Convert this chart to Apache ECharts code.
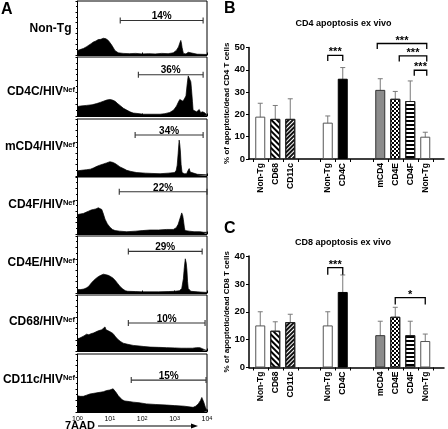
<!DOCTYPE html>
<html><head><meta charset="utf-8">
<script src="https://cdn.jsdelivr.net/npm/echarts@6/dist/echarts.min.js"></script>
<style>html,body{margin:0;padding:0;background:#fff}#c{width:448px;height:429px}</style>
</head><body><div id="c"></div>
<script>
// ---------------- DATA ----------------
// Panel A: flow histograms (x = log10 of 7AAD intensity, y = % of box height)
const histNames = ['Non-Tg', 'CD4C/HIV', 'mCD4/HIV', 'CD4F/HIV', 'CD4E/HIV', 'CD68/HIV', 'CD11c/HIV'];
const histSup = ['', 'Nef', 'Nef', 'Nef', 'Nef', 'Nef', 'Nef'];
const histPercents = ['14%', '36%', '34%', '22%', '29%', '10%', '15%'];
const gateStart = [1.32, 1.88, 1.78, 1.29, 1.57, 1.57, 1.66];
const gateEnd = [3.88, 3.88, 3.88, 4.0, 3.85, 3.94, 3.97];
const decades = [0, 1, 2, 3, 4];

const histNonTg = [[0,8],[0.08,10],[0.18,12],[0.27,15],[0.33,18],[0.42,21],[0.49,24],[0.57,26],[0.64,28.5],[0.72,29],[0.8,31],[0.88,30],[0.95,27],[1.0,23],[1.06,18],[1.11,13],[1.16,8],[1.21,5],[1.26,4],[1.41,3],[1.6,2.5],[1.8,3],[2.0,2],[2.2,2.5],[2.4,2],[2.6,3],[2.8,2.5],[2.96,4],[3.06,9],[3.12,15],[3.16,22],[3.19,27],[3.21,22],[3.23,14],[3.27,3],[3.35,2],[3.42,5],[3.46,2],[3.7,1.5],[4,1]];
const histCD4C = [[0,16],[0.1,17],[0.28,18],[0.45,19],[0.59,21],[0.7,23],[0.8,25],[0.9,27],[1.0,28],[1.08,27],[1.16,25],[1.24,21],[1.31,18],[1.42,13],[1.52,10],[1.62,7],[1.72,5],[1.9,4],[2.03,3],[2.3,3],[2.55,3],[2.7,4],[2.85,6],[2.97,10],[3.06,17],[3.12,24],[3.16,28],[3.21,26],[3.26,25],[3.31,30],[3.35,34],[3.39,55],[3.42,68],[3.47,70],[3.5,58],[3.52,46],[3.55,25],[3.57,10],[3.63,8],[3.68,7],[3.72,9],[3.76,11],[3.8,6],[3.83,3],[3.87,7],[3.9,10],[3.94,5],[4,1]];
const histMCD4 = [[0,9],[0.12,10],[0.28,11],[0.4,12],[0.49,14],[0.6,17],[0.69,19],[0.8,21],[0.9,23],[1.0,25],[1.08,24],[1.16,22],[1.24,19],[1.31,16],[1.42,13],[1.52,10],[1.65,8],[1.83,6],[2.1,5],[2.3,4.5],[2.55,4],[2.8,5],[3.0,6],[3.05,10],[3.08,19],[3.11,40],[3.14,63],[3.16,55],[3.18,42],[3.2,20],[3.23,6],[3.3,4],[3.37,4],[3.41,9],[3.45,13],[3.48,7],[3.51,4],[3.7,3],[4,2]];
const histCD4F = [[0,34],[0.08,35],[0.18,36],[0.26,38],[0.34,40],[0.42,42],[0.49,43],[0.57,44],[0.64,46],[0.7,45],[0.75,43],[0.8,35],[0.85,26],[0.92,18],[1.0,12],[1.08,8],[1.16,6],[1.3,5],[1.52,4],[1.8,5],[2.0,6],[2.24,7],[2.5,7],[2.75,8],[2.96,8],[3.05,11],[3.11,17],[3.17,28],[3.22,37],[3.25,32],[3.27,25],[3.3,12],[3.32,6],[3.45,5],[3.6,4],[3.78,4],[3.9,3],[4,3]];
const histCD4E = [[0,6],[0.1,6],[0.2,7],[0.28,9],[0.35,12],[0.42,17],[0.5,22],[0.58,26],[0.65,29],[0.72,31],[0.8,33],[0.88,32],[0.95,31],[1.02,29],[1.1,26],[1.18,21],[1.25,16],[1.32,11],[1.4,7],[1.48,4],[1.55,3],[1.8,2.5],[2.0,2],[2.5,2],[2.8,2.5],[3.0,3],[3.15,4],[3.22,8],[3.27,25],[3.3,45],[3.33,60],[3.36,52],[3.38,40],[3.4,20],[3.42,8],[3.5,3],[3.7,2],[4,1]];
const histCD68 = [[0,22],[0.07,23],[0.13,24],[0.2,27],[0.28,30],[0.35,29],[0.42,31],[0.49,32],[0.56,34],[0.64,36],[0.7,37],[0.75,38],[0.8,40],[0.85,43],[0.88,38],[0.95,36],[1.02,34],[1.1,31],[1.18,25],[1.26,20],[1.33,17],[1.41,14],[1.55,12],[1.72,10],[1.9,9],[2.05,8],[2.24,7],[2.5,6.5],[2.75,6],[3.0,5.5],[3.2,5],[3.37,5],[3.55,5],[3.68,6],[3.73,7],[3.78,6],[3.84,4],[3.94,2],[4,1]];
const histCD11c = [[0,28],[0.08,27],[0.18,27],[0.28,29],[0.38,31],[0.48,32],[0.59,33],[0.7,34],[0.8,35],[0.9,37],[1.0,38],[1.05,36],[1.1,40],[1.15,37],[1.2,33],[1.26,28],[1.31,25],[1.38,21],[1.46,19],[1.6,18],[1.72,17],[1.9,16],[2.13,14],[2.4,13],[2.75,12],[3.0,11],[3.3,10],[3.57,8],[3.65,10],[3.73,14],[3.8,20],[3.84,25],[3.87,22],[3.9,17],[3.95,8],[4,2]];
const histData = [histNonTg, histCD4C, histMCD4, histCD4F, histCD4E, histCD68, histCD11c];

// Panels B & C: bar charts
const barCategories = ['Non-Tg', 'CD68', 'CD11c', 'Non-Tg', 'CD4C', 'mCD4', 'CD4E', 'CD4F', 'Non-Tg'];
const cd4Mean = [19, 18, 18, 16.3, 36, 31, 27, 26, 10];
const cd4Err  = [6, 6, 9, 3, 5, 5, 3.3, 9, 2];
const cd8Mean = [15.1, 13.2, 16.3, 15.1, 27.1, 11.6, 18.2, 11.6, 9.5];
const cd8Err  = [4.9, 3.2, 2.8, 4.9, 6.1, 5, 3.4, 5, 2.5];
const cd4Sig = [[3, 4, '***'], [5, 8, '***'], [6, 8, '***'], [7, 8, '***']];
const cd8Sig = [[3, 4, '***'], [6, 8, '*']];
const cd4YTicks = [0, 10, 20, 30, 40, 50];
const cd8YTicks = [0, 10, 20, 30, 40];

// ---------------- LAYOUT / STYLE ----------------
const FF = '"Liberation Sans", Arial, sans-serif';
const histTops = [1, 57, 119, 177, 236, 295, 354];
const histBottoms = [55, 116, 176, 234, 293, 351, 412];
const histLabelY = [29, 92, 147, 205, 263, 322, 380];
const gateLevel = [64, 70, 72, 74, 73, 50, 55];
const nSlots = 26;
const barSlot = [1, 3, 5, 10, 12, 17, 19, 21, 23];
const tickSlots = [0, 2, 4, 6, 9, 11, 13, 16, 18, 20, 22, 24];
const cd4SigLevel = [46.5, 51.8, 46.2, 39.8];
const cd4SigDx = [[0, 0], [-3, 1.5], [4, 1.5], [4, 1.5]];
const cd8SigLevel = [35.8, 25.1];
const cd8SigDx = [[0, 0], [0, 0]];

const barLook = [
  {color: '#fff', borderColor: '#555'},
  {color: '#fff', borderColor: '#222', decal: {symbol: 'rect', dashArrayX: [1, 0], dashArrayY: [2, 2], rotation: Math.PI / 4, color: '#000'}},
  {color: '#fff', borderColor: '#222', decal: {symbol: 'rect', dashArrayX: [1, 0], dashArrayY: [1.2, 1], rotation: -Math.PI / 4, color: '#111'}},
  {color: '#fff', borderColor: '#555'},
  {color: '#000', borderColor: '#000'},
  {color: '#8c8c8c', borderColor: '#333'},
  {color: '#fff', borderColor: '#222', decal: {symbol: 'rect', dashArrayX: [[2, 2], [0, 2, 2, 0]], dashArrayY: [2, 0], color: '#000'}},
  {color: '#fff', borderColor: '#222', decal: {symbol: 'rect', dashArrayX: [1, 0], dashArrayY: [2, 2], rotation: 0, color: '#000'}},
  {color: '#fff', borderColor: '#555'}
];

const grids = [], xAxes = [], yAxes = [], series = [];

// ---- Panel A ----
histData.forEach((d, i) => {
  grids.push({left: 77.5, width: 129.5, top: histTops[i], height: histBottoms[i] - histTops[i],
    show: true, borderColor: '#000', borderWidth: 1});
  xAxes.push({type: 'value', gridIndex: i, min: 0, max: 4, interval: 1,
    axisLine: {show: true, lineStyle: {color: '#000', width: 1}},
    axisTick: {show: true, inside: true, length: 2.5, lineStyle: {color: '#000'}},
    splitLine: {show: false},
    axisLabel: {show: i === 6, margin: 3, color: '#000', fontFamily: FF, fontSize: 7, lineHeight: 9,
      formatter: v => '10{s|' + decades[v] + '}',
      rich: {s: {fontSize: 5.5, fontFamily: FF, color: '#000', verticalAlign: 'top', lineHeight: 9}}}
  });
  yAxes.push({type: 'value', gridIndex: i, min: 0, max: 100, interval: 20,
    axisLine: {show: true, lineStyle: {color: '#000', width: 1}},
    axisTick: {show: true, length: 2, lineStyle: {color: '#000'}},
    minorTick: {show: true, splitNumber: 2, length: 1.5, lineStyle: {color: '#000'}},
    axisLabel: {show: false}, splitLine: {show: false}
  });
  series.push({type: 'line', xAxisIndex: i, yAxisIndex: i, data: d, symbol: 'none', silent: true,
    lineStyle: {color: '#000', width: 0.7}, areaStyle: {color: '#000', opacity: 1}});
  series.push({type: 'custom', xAxisIndex: i, yAxisIndex: i, silent: true,
    data: [[gateStart[i], gateEnd[i], gateLevel[i]]],
    renderItem: (params, api) => {
      const a = api.coord([api.value(0), api.value(2)]);
      const b = api.coord([api.value(1), api.value(2)]);
      const ls = {stroke: '#333', lineWidth: 1.1};
      return {type: 'group', children: [
        {type: 'line', shape: {x1: a[0], y1: a[1], x2: b[0], y2: b[1]}, style: ls},
        {type: 'line', shape: {x1: a[0], y1: a[1] - 3, x2: a[0], y2: a[1] + 3}, style: ls},
        {type: 'line', shape: {x1: b[0], y1: b[1] - 3, x2: b[0], y2: b[1] + 3}, style: ls},
        {type: 'text', x: (a[0] + b[0]) / 2, y: a[1] + 1,
          style: {text: histPercents[i], font: 'bold 10px ' + FF, fill: '#000',
            align: 'center', verticalAlign: 'bottom', textAlign: 'center', textVerticalAlign: 'bottom'}}
      ]};
    }});
});

// ---- Panels B, C ----
const slotKeys = Array.from({length: nSlots}, (_, s) => 's' + s);
const slotLabel = s => { const k = barSlot.indexOf(s); return k >= 0 ? barCategories[k] : ''; };

function addBarPanel(gi, top, maxV, yTicks, means, errs, sig, sigLevel, sigDx, yName) {
  grids.push({left: 249, width: 195, top: top, height: 111.5});
  xAxes.push({type: 'category', gridIndex: gi, data: slotKeys, boundaryGap: true,
    axisLine: {show: true, lineStyle: {color: '#000', width: 1.5}},
    axisTick: {show: true, alignWithLabel: true, length: 3, lineStyle: {color: '#000'},
      interval: (idx) => tickSlots.indexOf(idx) >= 0},
    axisLabel: {interval: 0, rotate: 90, margin: 4, color: '#000', fontFamily: FF, fontWeight: 'bold', fontSize: 8.5,
      formatter: (v, idx) => slotLabel(idx)},
    splitLine: {show: false}
  });
  yAxes.push({type: 'value', gridIndex: gi, min: 0, max: maxV, interval: 10,
    axisLine: {show: true, lineStyle: {color: '#000', width: 1.5}},
    axisTick: {show: true, length: 3, lineStyle: {color: '#000'}},
    axisLabel: {margin: 4, color: '#000', fontFamily: FF, fontWeight: 'bold', fontSize: 9.5,
      formatter: v => (yTicks.indexOf(v) >= 0 ? String(v) : '')},
    splitLine: {show: false},
    name: yName, nameLocation: 'middle', nameGap: 17,
    nameTextStyle: {color: '#000', fontFamily: FF, fontWeight: 'bold', fontSize: 8}
  });
  const data = slotKeys.map((_, s) => {
    const k = barSlot.indexOf(s);
    if (k < 0) return '-';
    return {value: means[k], itemStyle: Object.assign({borderWidth: 1}, barLook[k])};
  });
  series.push({type: 'bar', xAxisIndex: gi, yAxisIndex: gi, barWidth: 10, data: data, silent: true});
  series.push({type: 'custom', xAxisIndex: gi, yAxisIndex: gi, silent: true,
    data: barSlot.map((s, k) => [s, means[k] - errs[k], means[k] + errs[k]]),
    renderItem: (params, api) => {
      const x = api.value(0);
      const t = api.coord([x, api.value(2)]);
      const b = api.coord([x, api.value(1)]);
      const st = {stroke: '#7a7a7a', lineWidth: 1};
      return {type: 'group', children: [
        {type: 'line', shape: {x1: t[0], y1: t[1], x2: b[0], y2: b[1]}, style: st},
        {type: 'line', shape: {x1: t[0] - 2.5, y1: t[1], x2: t[0] + 2.5, y2: t[1]}, style: st},
        {type: 'line', shape: {x1: b[0] - 2.5, y1: b[1], x2: b[0] + 2.5, y2: b[1]}, style: st}
      ]};
    }});
  series.push({type: 'custom', xAxisIndex: gi, yAxisIndex: gi, silent: true, clip: false,
    data: sig.map((d, i) => [barSlot[d[0]], barSlot[d[1]], sigLevel[i], sigLevel[i] - 2.5]),
    renderItem: (params, api) => {
      const i = params.dataIndex;
      const a = api.coord([api.value(0), api.value(2)]);
      const b = api.coord([api.value(1), api.value(2)]);
      const l = api.coord([api.value(0), api.value(3)]);
      const xa = a[0] + sigDx[i][0], xb = b[0] + sigDx[i][1];
      const st = {stroke: '#000', lineWidth: 1.3, fill: null};
      return {type: 'group', children: [
        {type: 'polyline', shape: {points: [[xa, l[1]], [xa, a[1]], [xb, b[1]], [xb, l[1]]]}, style: st},
        {type: 'text', x: (xa + xb) / 2, y: a[1] - 3,
          style: {text: sig[i][2], font: 'bold 11px ' + FF, fill: '#000',
            align: 'center', verticalAlign: 'middle', textAlign: 'center', textVerticalAlign: 'middle'}}
      ]};
    }});
}
addBarPanel(7, 47.5, 50, cd4YTicks, cd4Mean, cd4Err, cd4Sig, cd4SigLevel, cd4SigDx, '% of apoptotic/dead CD4 T cells');
addBarPanel(8, 256, 40, cd8YTicks, cd8Mean, cd8Err, cd8Sig, cd8SigLevel, cd8SigDx, '% of apoptotic/dead CD8 T cells');

// ---- text graphics ----
const txt = (x, y, text, font, align) => ({type: 'text', x: x, y: y, silent: true,
  style: {text: text, font: font, fill: '#000', align: align, verticalAlign: 'middle', textAlign: align, textVerticalAlign: 'middle'}});
const graphics = [
  txt(1, 10, 'A', 'bold 16px ' + FF, 'left'),
  txt(224, 9, 'B', 'bold 16px ' + FF, 'left'),
  txt(224, 229, 'C', 'bold 16px ' + FF, 'left'),
  txt(343.5, 24, 'CD4 apoptosis ex vivo', 'bold 9px ' + FF, 'center'),
  txt(343, 242.5, 'CD8 apoptosis ex vivo', 'bold 9px ' + FF, 'center'),
  txt(65, 426, '7AAD', 'bold 11px ' + FF, 'left'),
  {type: 'line', silent: true, shape: {x1: 98, y1: 426, x2: 193, y2: 426}, style: {stroke: '#000', lineWidth: 1.2}},
  {type: 'polygon', silent: true, shape: {points: [[191, 423.5], [198, 426], [191, 428.5]]}, style: {fill: '#000'}}
];
histNames.forEach((n, i) => {
  const right = histSup[i] ? 75 : 71.5;
  graphics.push({type: 'text', x: right, y: histLabelY[i], silent: true,
    style: {text: '{a|' + n + '}' + (histSup[i] ? '{s|' + histSup[i] + '}' : ''),
      align: 'right', verticalAlign: 'middle', textAlign: 'right', textVerticalAlign: 'middle',
      rich: {a: {fontFamily: FF, fontWeight: 'bold', fontSize: 12, fill: '#000', lineHeight: 13},
             s: {fontFamily: FF, fontWeight: 'bold', fontSize: 7.5, fill: '#000', verticalAlign: 'top', lineHeight: 13}}}});
});

const chart = echarts.init(document.getElementById('c'), null, {renderer: 'canvas'});
chart.setOption({
  animation: false,
  backgroundColor: '#fff',
  grid: grids, xAxis: xAxes, yAxis: yAxes, series: series,
  graphic: graphics
});
</script></body></html>
